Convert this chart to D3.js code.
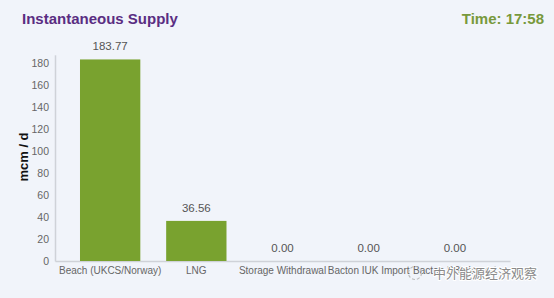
<!DOCTYPE html>
<html>
<head>
<meta charset="utf-8">
<script src="https://cdn.jsdelivr.net/npm/d3@7"></script>
<style>
  body { margin: 0; background: #f1f4fa; }
  svg { display: block; font-family: "Noto Sans", "Open Sans", sans-serif; }
</style>
</head>
<body>
<div id="chart"></div>
<script>
// chart values
var categories = ["Beach (UKCS/Norway)", "LNG", "Storage Withdrawal", "Bacton IUK Import", "Bacton BBL Import"];
var supply = [183.77, 36.56, 0.00, 0.00, 0.00];
var yTicks = [0, 20, 40, 60, 80, 100, 120, 140, 160, 180];

var w = 554;
var h = 298;

var svg = d3.select("#chart")
    .append("svg")
    .attr("width", w)
    .attr("height", h);

svg.append("rect")
    .attr("width", w)
    .attr("height", h)
    .attr("fill", "#f1f4fa");

// titles
svg.append("text")
    .attr("x", 22)
    .attr("y", 24)
    .attr("fill", "#5a2d82")
    .style("font-family", "'Liberation Sans', Arial, sans-serif")
    .style("font-size", "15px")
    .style("font-weight", "bold")
    .text("Instantaneous Supply");

svg.append("text")
    .attr("x", 544)
    .attr("y", 24)
    .attr("text-anchor", "end")
    .attr("fill", "#78993c")
    .style("font-family", "'Liberation Sans', Arial, sans-serif")
    .style("font-size", "15px")
    .style("font-weight", "bold")
    .text("Time: 17:58");

var x = d3.scaleBand()
    .domain(categories)
    .range([55, 510])
    .paddingInner(0.3)
    .paddingOuter(0.29);

var y = d3.scaleLinear()
    .domain([0, 188])
    .range([261, 54.8]);

// y axis
var yAxis = svg.append("g")
    .attr("transform", "translate(55,0)")
    .call(d3.axisLeft(y).tickValues(yTicks).tickSize(0).tickPadding(6));
yAxis.select(".domain").attr("stroke", "#cfd2d8").attr("stroke-width", 1.5);
yAxis.selectAll("text")
    .attr("fill", "#666")
    .style("font-size", "10.5px");

// x axis
var xAxis = svg.append("g")
    .attr("transform", "translate(0,261)")
    .call(d3.axisBottom(x).tickSize(0).tickPadding(6));
xAxis.select(".domain").attr("stroke", "#cfd2d8").attr("stroke-width", 1.5);
xAxis.selectAll("text")
    .attr("fill", "#666")
    .style("font-size", "10px");

svg.append("text")
    .attr("transform", "translate(28,157) rotate(-90)")
    .attr("text-anchor", "middle")
    .attr("fill", "#111")
    .style("font-family", "'Liberation Sans', Arial, sans-serif")
    .style("font-size", "13px")
    .style("font-weight", "bold")
    .text("mcm / d");

// bars
svg.selectAll(".bar")
    .data(supply)
    .enter()
    .append("rect")
    .attr("class", "bar")
    .attr("x", function(d, i) { return x(categories[i]); })
    .attr("y", function(d) { return y(d); })
    .attr("width", x.bandwidth())
    .attr("height", function(d) { return y(0) - y(d); })
    .attr("fill", "#79a22f");

svg.selectAll(".val")
    .data(supply)
    .enter()
    .append("text")
    .attr("class", "val")
    .attr("x", function(d, i) { return x(categories[i]) + x.bandwidth() / 2; })
    .attr("y", function(d) { return y(d) - 9; })
    .attr("text-anchor", "middle")
    .attr("fill", "#555")
    .style("font-family", "'Liberation Sans', Arial, sans-serif")
    .style("font-size", "11.5px")
    .text(function(d) { return d.toFixed(2); });

// watermark over the last label
var wm = svg.append("g").attr("transform", "translate(407,278)");
wm.append("circle").attr("cx", 8).attr("cy", -5).attr("r", 6.5)
    .attr("fill", "none").attr("stroke", "#bbb").attr("stroke-width", 1.2).attr("stroke-dasharray", "3,2");
wm.append("text")
    .attr("x", 26)
    .attr("y", 0)
    .attr("fill", "#8a8a8a")
    .attr("stroke", "#ffffff")
    .attr("stroke-width", 2)
    .attr("paint-order", "stroke")
    .style("font-family", "'Noto Sans CJK SC', sans-serif")
    .style("font-size", "13px")
    .text("中外能源经济观察");
</script>
</body>
</html>
